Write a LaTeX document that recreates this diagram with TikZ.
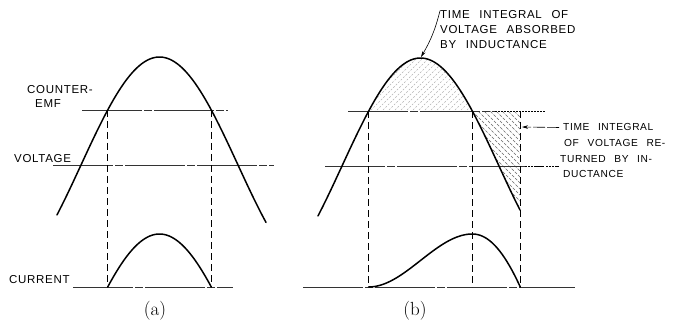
\documentclass[tikz,border=0pt]{standalone}
\usepackage{fontspec}
\newfontfamily\lab[LetterSpace=6,WordSpace=2.5]{Liberation Sans}
\usetikzlibrary{arrows.meta}
\begin{document}
\begin{tikzpicture}[x=1pt,y=-1pt,
  declare function={va(\x)=165-108*cos((\x-159.5)*1.1465); vb(\x)=166-108*cos((\x-420.5)*1.1465);
    ib(\t)=287-0.737*(108*(sin(\t r)+0.8607)-55*(\t+1.036));},
  curve/.style={line width=1.5pt, line cap=round, line join=round},
  axisline/.style={line width=0.5pt, black!80, dash pattern=on 60pt off 2pt on 8pt off 2pt},
  dotline/.style={line width=0.45pt, dash pattern=on 1.5pt off 1.5pt},
  guide/.style={line width=0.5pt, dash pattern=on 7pt off 4pt},
  txt/.style={font=\lab\fontsize{11.5}{13}\selectfont, inner sep=0pt, anchor=base west},
  txts/.style={txt, font=\lab\fontsize{10.2}{12}\selectfont},
  capt/.style={font=\fontsize{19}{22}\selectfont, inner sep=0pt},
  hatchA/.style={gray!60, line width=0.4pt, dash pattern=on 2pt off 1.5pt},
  hatchB/.style={black!60, line width=0.45pt, dash pattern=on 3pt off 1.5pt},
  lead/.style={line width=0.6pt, -{Stealth[length=6pt,width=3.5pt]}},
]
\useasboundingbox (0,0) rectangle (674,323);

% ---------------- panel (a) ----------------
\coordinate (aEl) at (82,110);   \coordinate (aEr) at (228,110);
\coordinate (aVl) at (53,165);   \coordinate (aVr) at (274,165);
\coordinate (aCl) at (73,287);   \coordinate (aCr) at (233,287);
\coordinate (aX1) at (107.7,110); \coordinate (aX1b) at (107.7,287);
\coordinate (aX2) at (211.3,110); \coordinate (aX2b) at (211.3,287);

\draw[axisline] (aEl) -- (aEr);
\draw[axisline] (aVl) -- (aVr);
\draw[axisline] (aCl) -- (aCr);
\draw[guide] (aX1) -- (aX1b);
\draw[guide] (aX2) -- (aX2b);

\draw[curve] plot[domain=57:266, samples=90] (\x,{va(\x)});
\draw[curve] plot[domain=107.7:211.3, samples=60] (\x,{287-(108*cos((\x-159.5)*1.1465)-55)});

\node[txt] (lcemf1) at (27,94) {COUNTER-};
\node[txt] (lcemf2) at (35,108) {EMF};
\node[txt] (lvolt) at (14,163) {VOLTAGE};
\node[txt] (lcur) at (9,283) {CURRENT};
\node[capt] (capa) at (155,311) {(a)};

% ---------------- panel (b) ----------------
% hatching, area absorbed
\begin{scope}
  \clip plot[domain=368.7:472.3, samples=60] (\x,{vb(\x)}) -- cycle;
  \foreach \s in {300,306,...,480} \draw[hatchA] (\s,115) -- ++(70,-70);
\end{scope}
% hatching, area returned
\begin{scope}
  \clip (472.3,111) -- (520,111) -- (520,210)
     -- plot[domain=0:1, samples=40, variable=\t] ({520-47.7*\t},{vb(520-47.7*\t)}) -- cycle;
  \foreach \s in {340,346,...,530} \draw[hatchB] (\s,105) -- ++(110,110);
\end{scope}

\coordinate (bEl) at (348,111);  \coordinate (bEm) at (495,111); \coordinate (bEr) at (545,111);
\coordinate (bVl) at (325,166);  \coordinate (bVm) at (525,166); \coordinate (bVr) at (559,166);
\coordinate (bCl) at (303,287);  \coordinate (bCr) at (575,287);
\coordinate (bX1) at (368.7,111); \coordinate (bX1b) at (368.7,287);
\coordinate (bX2) at (472.3,111); \coordinate (bX2b) at (472.3,287);
\coordinate (bX3) at (520,111);   \coordinate (bX3b) at (520,287);

\draw[axisline] (bEl) -- (bEm);
\draw[dotline] (bEm) -- (bEr);
\draw[axisline] (bVl) -- (bVm);
\draw[line width=0.45pt, dash pattern=on 1.5pt off 1.5pt on 1.5pt off 1.5pt on 1.5pt off 1.5pt on 10pt off 2pt] (bVm) -- (bVr);
\draw[axisline] (bCl) -- (bCr);
\draw[guide] (bX1) -- (bX1b);
\draw[guide] (bX2) -- (bX2b);
\draw[guide] (bX3) -- (bX3b);

\draw[curve] plot[domain=318:520, samples=90] (\x,{vb(\x)});
\draw[curve] plot[domain=-1.036:1.036, samples=50, variable=\t] ({420.5+49.97*\t},{ib(\t)})
  -- plot[domain=1.036:2.22, samples=30, variable=\t] ({472.3+40.54*(\t-1.036)},{ib(\t)});

\node[txt] (lt1) at (440,19) {TIME INTEGRAL OF};
\node[txt] (lt2) at (440,34) {VOLTAGE ABSORBED};
\node[txt] (lt3) at (440,49) {BY INDUCTANCE};
\coordinate (peakb) at (421,57);
\draw[lead] (lt1.north west) to[bend left=8] (peakb);

\node[txts] (lr1) at (563,131) {TIME INTEGRAL};
\node[txts] (lr2) at (564,147) {OF VOLTAGE RE-};
\node[txts] (lr3) at (560,163) {TURNED BY IN-};
\node[txts] (lr4) at (563,178) {DUCTANCE};
\coordinate (tipr) at (522,127);
\draw[lead, dash pattern=on 12pt off 2pt] ([xshift=-4pt]lr1.west) -- (tipr);

\node[capt] (capb) at (415,311) {(b)};
\end{tikzpicture}
\end{document}
